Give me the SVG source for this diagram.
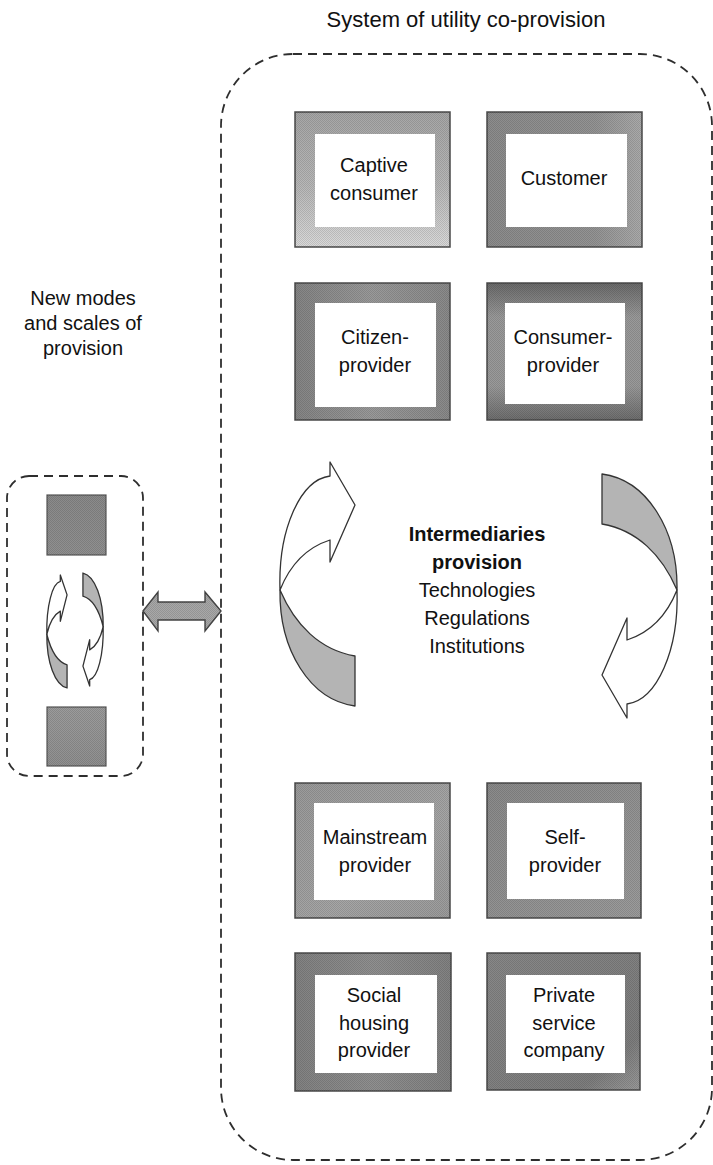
<svg xmlns="http://www.w3.org/2000/svg" width="713" height="1165" viewBox="0 0 713 1165">
<style>
  text { font-family: "Liberation Sans", Arial, sans-serif; fill: #111; text-anchor: middle; }
  .t { font-size: 20px; }
  .title { font-size: 22px; }
  .b { font-weight: bold; }
  .dash { fill: none; stroke: #2e2e2e; stroke-width: 1.8; stroke-dasharray: 9 6; }
  .frame { stroke: #4a4a4a; stroke-width: 1.5; }
  .inner { fill: #fff; }
  .dither { fill: url(#dots); stroke: none; }
  .arw { stroke: #333; stroke-width: 1.3; stroke-linejoin: round; vector-effect: non-scaling-stroke; }
  .white { fill: #fff; }
  .shade { fill: #b4b4b4; }
  .sq { stroke: #555; stroke-width: 1.2; }
</style>
<defs>
  <pattern id="dots" width="2" height="2" patternUnits="userSpaceOnUse">
    <rect x="0" y="0" width="1" height="1" fill="#000" fill-opacity="0.12"/>
    <rect x="1" y="1" width="1" height="1" fill="#000" fill-opacity="0.12"/>
  </pattern>
  <linearGradient id="g1" x1="0" y1="0" x2="0" y2="1">
    <stop offset="0" stop-color="#a6a6a6"/><stop offset="0.55" stop-color="#b8b8b8"/><stop offset="1" stop-color="#dadada"/>
  </linearGradient>
  <linearGradient id="g2" x1="0" y1="0" x2="1" y2="0">
    <stop offset="0" stop-color="#8c8c8c"/><stop offset="0.7" stop-color="#949494"/><stop offset="1" stop-color="#ababab"/>
  </linearGradient>
  <linearGradient id="g3" x1="0" y1="0" x2="1" y2="0">
    <stop offset="0" stop-color="#858585"/><stop offset="0.5" stop-color="#9a9a9a"/><stop offset="1" stop-color="#8a8a8a"/>
  </linearGradient>
  <linearGradient id="g4" x1="0" y1="0" x2="0" y2="1">
    <stop offset="0" stop-color="#6a6a6a"/><stop offset="0.25" stop-color="#9a9a9a"/><stop offset="0.75" stop-color="#9a9a9a"/><stop offset="1" stop-color="#6e6e6e"/>
  </linearGradient>
  <linearGradient id="g5" x1="0" y1="0" x2="1" y2="1">
    <stop offset="0" stop-color="#9a9a9a"/><stop offset="0.6" stop-color="#a6a6a6"/><stop offset="1" stop-color="#9c9c9c"/>
  </linearGradient>
  <linearGradient id="g6" x1="0" y1="0" x2="1" y2="1">
    <stop offset="0" stop-color="#8a8a8a"/><stop offset="1" stop-color="#9c9c9c"/>
  </linearGradient>
  <linearGradient id="g7" x1="0" y1="0" x2="1" y2="0">
    <stop offset="0" stop-color="#828282"/><stop offset="0.5" stop-color="#909090"/><stop offset="1" stop-color="#828282"/>
  </linearGradient>
  <linearGradient id="g8" x1="0" y1="0" x2="1" y2="1">
    <stop offset="0" stop-color="#888"/><stop offset="0.8" stop-color="#7e7e7e"/><stop offset="1" stop-color="#9a9a9a"/>
  </linearGradient>
  <linearGradient id="gsq1" x1="0" y1="0" x2="0" y2="1">
    <stop offset="0" stop-color="#8a8a8a"/><stop offset="1" stop-color="#909090"/>
  </linearGradient>
  <linearGradient id="gsq2" x1="0" y1="0" x2="0" y2="1">
    <stop offset="0" stop-color="#9c9c9c"/><stop offset="1" stop-color="#909090"/>
  </linearGradient>
  <g id="circArrow">
    <path class="arw white" d="M53,14 C23,18 1,68 3,128 C13,103 28,86 53,78 L53,100 L78,43 L53,0 Z"/>
    <path class="arw shade" d="M3,128 C2,188 33,238 78,244 L78,194 C43,188 18,163 3,128 Z"/>
  </g>
</defs>

<rect width="713" height="1165" fill="#fff"/>

<g id="system-container">
  <rect class="dash" x="221" y="54" width="491" height="1106" rx="72" ry="72"/>
  <text class="title" x="466" y="27">System of utility co-provision</text>
</g>

<g id="new-modes">
  <text class="t" x="83" y="305">New modes</text>
  <text class="t" x="83" y="330">and scales of</text>
  <text class="t" x="83" y="355">provision</text>
  <rect class="dash" x="7" y="476" width="136" height="300" rx="22" ry="22"/>
  <rect class="sq" x="47" y="495" width="59" height="60" fill="url(#gsq1)"/>
  <rect class="dither" x="47" y="495" width="59" height="60"/>
  <rect class="sq" x="47" y="707" width="59" height="59" fill="url(#gsq2)"/>
  <rect class="dither" x="47" y="707" width="59" height="59"/>
  <use href="#circArrow" transform="translate(46,575) scale(0.27,0.463)"/>
  <use href="#circArrow" transform="translate(104,686) rotate(180) scale(0.27,0.463)"/>
</g>

<g id="connectors">
  <path d="M143,611 L158,592 L158,602 L205,602 L205,592 L221,611 L205,631 L205,620 L158,620 L158,631 Z" fill="#a8a8a8" stroke="#444" stroke-width="1.4" stroke-linejoin="miter"/>
  <path d="M143,611 L158,592 L158,602 L205,602 L205,592 L221,611 L205,631 L205,620 L158,620 L158,631 Z" class="dither"/>
</g>

<g id="node-captive-consumer">
  <rect class="frame" x="295" y="112" width="155" height="135" fill="url(#g1)"/>
  <rect class="dither" x="295" y="112" width="155" height="135"/>
  <rect class="inner" x="315" y="134" width="120" height="93"/>
  <text class="t" x="374" y="172">Captive</text>
  <text class="t" x="374" y="200">consumer</text>
</g>
<g id="node-customer">
  <rect class="frame" x="487" y="112" width="155" height="135" fill="url(#g2)"/>
  <rect class="dither" x="487" y="112" width="155" height="135"/>
  <rect class="inner" x="506" y="134" width="121" height="93"/>
  <text class="t" x="564" y="185">Customer</text>
</g>
<g id="node-citizen-provider">
  <rect class="frame" x="295" y="283" width="155" height="137" fill="url(#g3)"/>
  <rect class="dither" x="295" y="283" width="155" height="137"/>
  <rect class="inner" x="315" y="303" width="121" height="104"/>
  <text class="t" x="375" y="344">Citizen-</text>
  <text class="t" x="375" y="372">provider</text>
</g>
<g id="node-consumer-provider">
  <rect class="frame" x="487" y="283" width="155" height="137" fill="url(#g4)"/>
  <rect class="dither" x="487" y="283" width="155" height="137"/>
  <rect class="inner" x="505" y="303" width="120" height="101"/>
  <text class="t" x="563" y="344">Consumer-</text>
  <text class="t" x="563" y="372">provider</text>
</g>

<g id="intermediaries">
  <use href="#circArrow" transform="translate(277,462)"/>
  <use href="#circArrow" transform="translate(680,718) rotate(180)"/>
  <text class="t b" x="477" y="541">Intermediaries</text>
  <text class="t b" x="477" y="569">provision</text>
  <text class="t" x="477" y="597">Technologies</text>
  <text class="t" x="477" y="625">Regulations</text>
  <text class="t" x="477" y="653">Institutions</text>
</g>

<g id="node-mainstream-provider">
  <rect class="frame" x="295" y="783" width="155" height="135" fill="url(#g5)"/>
  <rect class="dither" x="295" y="783" width="155" height="135"/>
  <rect class="inner" x="314" y="803" width="120" height="97"/>
  <text class="t" x="375" y="844">Mainstream</text>
  <text class="t" x="375" y="872">provider</text>
</g>
<g id="node-self-provider">
  <rect class="frame" x="487" y="783" width="154" height="135" fill="url(#g6)"/>
  <rect class="dither" x="487" y="783" width="154" height="135"/>
  <rect class="inner" x="507" y="803" width="117" height="96"/>
  <text class="t" x="565" y="844">Self-</text>
  <text class="t" x="565" y="872">provider</text>
</g>
<g id="node-social-housing-provider">
  <rect class="frame" x="295" y="953" width="156" height="138" fill="url(#g7)"/>
  <rect class="dither" x="295" y="953" width="156" height="138"/>
  <rect class="inner" x="315" y="975" width="122" height="98"/>
  <text class="t" x="374" y="1002">Social</text>
  <text class="t" x="374" y="1030">housing</text>
  <text class="t" x="374" y="1057">provider</text>
</g>
<g id="node-private-service-company">
  <rect class="frame" x="487" y="953" width="153" height="137" fill="url(#g8)"/>
  <rect class="dither" x="487" y="953" width="153" height="137"/>
  <rect class="inner" x="506" y="975" width="119" height="98"/>
  <text class="t" x="564" y="1002">Private</text>
  <text class="t" x="564" y="1030">service</text>
  <text class="t" x="564" y="1057">company</text>
</g>
</svg>
